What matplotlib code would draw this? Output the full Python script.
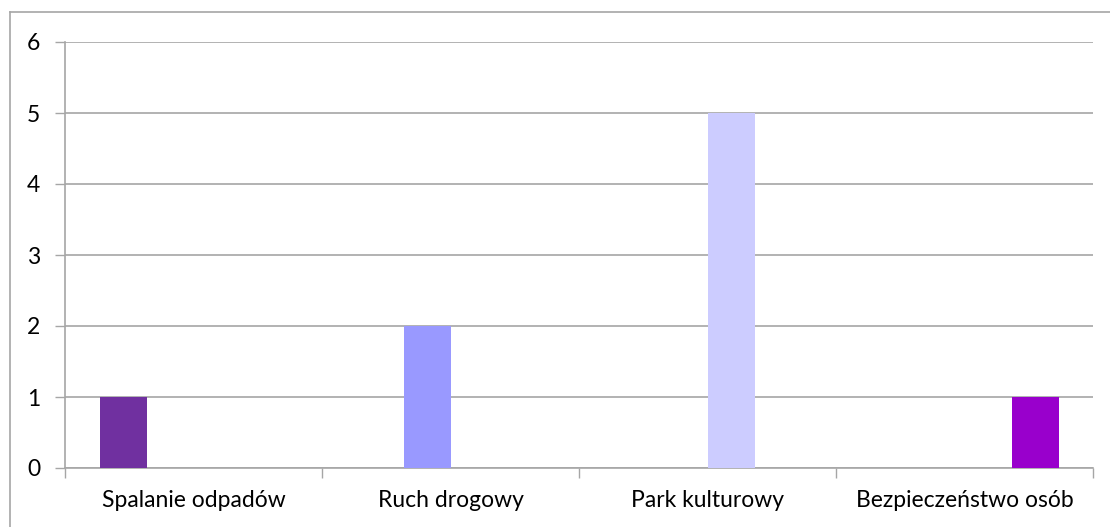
import matplotlib
matplotlib.use("Agg")
import matplotlib.pyplot as plt
from matplotlib.lines import Line2D
import numpy as np

categories = ["Spalanie odpadów", "Ruch drogowy", "Park kulturowy", "Bezpieczeństwo osób"]
series_values = [
    [1, 0, 0, 0],
    [0, 2, 0, 0],
    [0, 0, 5, 0],
    [0, 0, 0, 1],
]
series_colors = ["#7030A0", "#9999FF", "#CCCCFF", "#9900CC"]
yticks = [0, 1, 2, 3, 4, 5, 6]

W, H = 1110, 527
plt.rcParams['font.family'] = ['Lato', 'DejaVu Sans']
fig = plt.figure(figsize=(W / 100, H / 100), dpi=100)

# outer border (top and left visible)
gray = "#A6A6A6"
fig.add_artist(Line2D([10 / W, 1.0], [1 - 12 / H, 1 - 12 / H], color=gray, lw=1.2, transform=fig.transFigure))
fig.add_artist(Line2D([10 / W, 10 / W], [0, 1 - 12 / H], color=gray, lw=1.2, transform=fig.transFigure))

ax = fig.add_axes([65 / W, (H - 468) / H, 1028 / W, 426 / H])
x = np.arange(len(categories))
n = len(series_values)
w = 47 / 257
for j, (vals, c) in enumerate(zip(series_values, series_colors)):
    ax.bar(x + (j - (n - 1) / 2) * w, vals, width=w, color=c, zorder=3)

ax.set_xlim(-0.5, len(categories) - 0.5)
ax.set_ylim(0, 6)
ax.set_yticks(yticks)
ax.set_yticklabels([str(t) for t in yticks], fontsize=16.5, color="#000000")
ax.yaxis.grid(True, color=gray, lw=1.2, zorder=0)
ax.set_axisbelow(True)

ax.set_xticks(x)
ax.set_xticklabels(categories, fontsize=16.5, color="#000000")
ax.tick_params(axis='x', length=0, pad=16)
ax.set_xticks(np.arange(len(categories) + 1) - 0.5, minor=True)
ax.tick_params(axis='x', which='minor', length=7, color=gray, width=1)
ax.tick_params(axis='y', length=7, color=gray, width=1, pad=11)

for s in ['top', 'right']:
    ax.spines[s].set_visible(False)
for s in ['left', 'bottom']:
    ax.spines[s].set_color(gray)
    ax.spines[s].set_linewidth(1.2)

fig.savefig("out.png", dpi=100)
